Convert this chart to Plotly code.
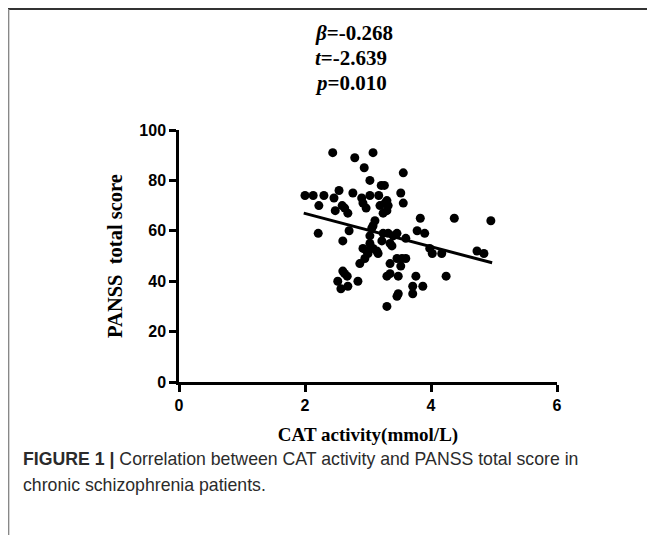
import plotly.graph_objects as go

# ---- data ----
cat_activity = [
    2.44, 2.79, 3.08, 2.94, 3.03, 3.21, 3.26, 3.56,
    2.00, 2.13, 2.30, 2.46, 2.54, 2.76, 2.90, 3.03, 3.17, 3.30, 3.52,
    2.22, 2.48, 2.59, 2.63, 2.68, 2.92, 2.97, 3.19, 3.27, 3.32, 3.30, 3.24, 3.56,
    3.83, 4.37, 4.95, 3.11, 2.21, 2.70, 2.60, 3.06, 3.03, 3.08, 3.24, 3.32, 3.40, 3.46,
    3.78, 3.90, 3.60, 3.22,
    3.35, 3.38, 3.03, 3.08, 2.92, 2.98, 3.14, 3.16, 3.00, 3.98, 4.02, 4.17, 4.73, 4.84,
    2.95, 2.87, 3.46, 3.54, 3.60, 3.35, 3.52,
    2.60, 2.63, 2.67, 2.52, 2.84, 3.30, 3.35, 3.48, 3.76, 4.24,
    2.68, 2.57, 3.71, 3.87, 3.71, 3.46, 3.48, 3.30,
]
panss_total = [
    91, 89, 91, 85, 80, 78, 78, 83,
    74, 74, 74, 73, 76, 75, 73, 74, 74, 72, 75,
    70, 68, 70, 69, 67, 71, 69, 70, 71, 70, 68, 67, 71,
    65, 65, 64, 64, 59, 60, 56, 61, 58, 62, 59, 59, 58, 59,
    60, 59, 57, 56,
    55, 54, 55, 53, 53, 52, 52, 51, 51, 53, 51, 51, 52, 51,
    49, 47, 49, 49, 49, 47, 46,
    44, 43, 42, 40, 40, 42, 43, 42, 42, 42,
    38, 37, 38, 38, 35, 34, 35, 30,
]
fit_x = [1.98, 4.97]
fit_y = [67.0, 47.3]

x_ticks = [0, 2, 4, 6]
y_ticks = [0, 20, 40, 60, 80, 100]
stats_lines = ["<i>β</i>=-0.268", "<i>t</i>=-2.639", "<i>p</i>=0.010"]

# ---- layout geometry ----
# The page body has an 8px margin, so figure coordinates = screen - 8.
OFF = 8
W, H = 655 - OFF, 535 - OFF
L, R, T, B = 179 - OFF, 557 - OFF, 130 - OFF, 382 - OFF  # plot area edges (figure px)


def px_x(sx):
    """screen x pixel -> paper x"""
    return (sx - OFF - L) / (R - L)


def px_y(sy):
    """screen y pixel -> paper y"""
    return (B - (sy - OFF)) / (B - T)


fig = go.Figure()
fig.add_trace(go.Scatter(
    x=cat_activity, y=panss_total, mode="markers",
    marker=dict(color="black", size=9, line=dict(width=0)),
    showlegend=False, cliponaxis=False,
))
fig.add_trace(go.Scatter(
    x=fit_x, y=fit_y, mode="lines",
    line=dict(color="black", width=3),
    showlegend=False,
))

serif = "Liberation Serif, Times New Roman, serif"
sans = "Liberation Sans, Arial, sans-serif"

annotations = []
for i, s in enumerate(stats_lines):
    annotations.append(dict(
        text="<b>" + s + "</b>", xref="paper", yref="paper",
        x=px_x(313), y=px_y(33 + 25 * i), xanchor="left", yanchor="middle",
        showarrow=False, font=dict(family=serif, size=21, color="black"),
    ))
annotations.append(dict(
    text="<b>FIGURE 1 |</b> Correlation between CAT activity and PANSS total score in",
    xref="paper", yref="paper", x=px_x(21), y=px_y(459),
    xanchor="left", yanchor="middle", showarrow=False,
    font=dict(family=sans, size=17.7, color="#2b2b2b"),
))
annotations.append(dict(
    text="chronic schizophrenia patients.",
    xref="paper", yref="paper", x=px_x(21), y=px_y(485),
    xanchor="left", yanchor="middle", showarrow=False,
    font=dict(family=sans, size=17.7, color="#2b2b2b"),
))

shapes = [
    dict(type="line", xref="paper", yref="paper",
         x0=px_x(8), x1=px_x(670), y0=px_y(9), y1=px_y(9),
         line=dict(color="#333333", width=2)),
    dict(type="line", xref="paper", yref="paper",
         x0=px_x(8.6), x1=px_x(8.6), y0=px_y(9), y1=px_y(560),
         line=dict(color="#888888", width=1.5)),
]

axis_common = dict(
    showline=True, linecolor="black", linewidth=2.5,
    ticks="outside", ticklen=7, tickwidth=2.5, tickcolor="black",
    showgrid=False, zeroline=False,
    tickfont=dict(family=sans, size=16, color="black", weight="bold"),
)

fig.update_layout(
    width=W, height=H, autosize=False,
    margin=dict(l=L, r=W - R, t=T, b=H - B, pad=0),
    paper_bgcolor="white", plot_bgcolor="white",
    xaxis=dict(range=[0, 6], tickvals=x_ticks, **axis_common,
               title=dict(text="<b>CAT activity(mmol/L)</b>", standoff=15,
                          font=dict(family=serif, size=19, color="black"))),
    yaxis=dict(range=[0, 100], tickvals=y_ticks, **axis_common,
               title=dict(text="<b>PANSS  total score</b>", standoff=12,
                          font=dict(family=serif, size=20.5, color="black"))),
    annotations=annotations, shapes=shapes,
)

fig.write_html("out.html")
